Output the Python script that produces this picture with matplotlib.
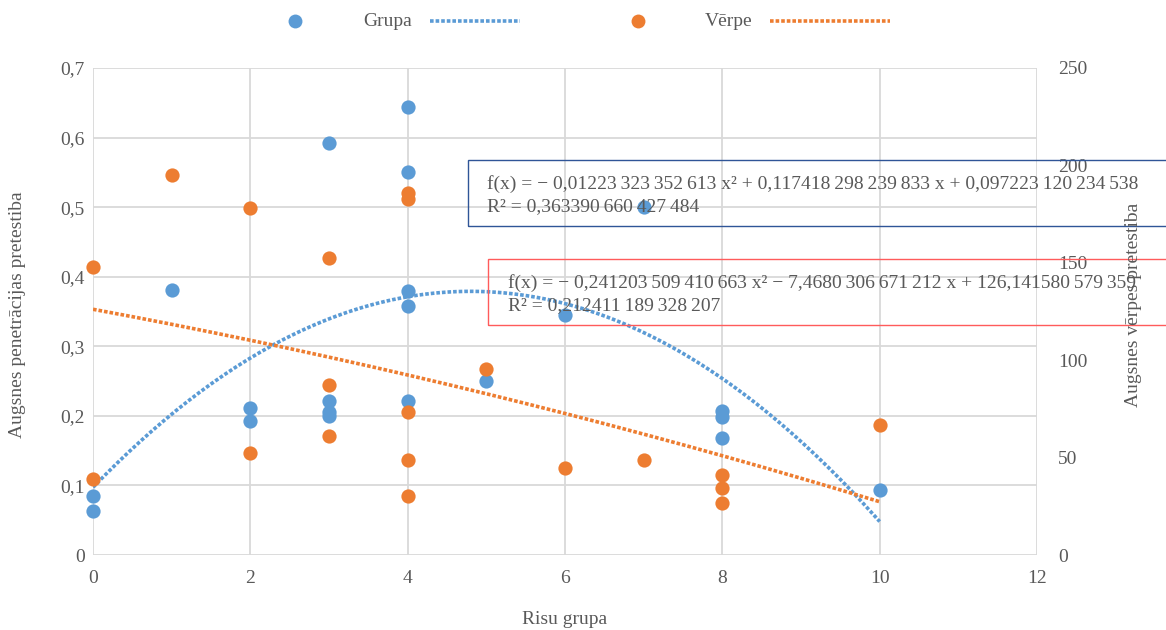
import numpy as np
import matplotlib
matplotlib.use("Agg")
import matplotlib.pyplot as plt
from matplotlib.lines import Line2D
from matplotlib.patches import Rectangle
from matplotlib.ticker import FuncFormatter, MultipleLocator

plt.rcParams['font.family'] = ['Liberation Serif', 'DejaVu Serif']

# data
grupa_x = [0, 0, 1, 2, 2, 3, 3, 3, 3, 4, 4, 4, 4, 4, 5, 6, 7, 8, 8, 8, 10]
grupa_y = [0.085, 0.063, 0.381, 0.211, 0.193, 0.592, 0.221, 0.206, 0.200,
           0.644, 0.550, 0.379, 0.358, 0.221, 0.250, 0.345, 0.500,
           0.207, 0.198, 0.168, 0.093]

verpe_x = [0, 0, 1, 2, 2, 3, 3, 3, 4, 4, 4, 4, 4, 5, 6, 7, 8, 8, 8, 10]
verpe_y = [147.8, 38.9, 195.0, 178.0, 52.4, 152.3, 87.4, 61.1,
           185.7, 182.6, 73.6, 48.8, 30.3, 95.3, 44.7, 48.9,
           41.2, 34.6, 26.9, 66.6]

# trendline coefficients as printed on the chart (x^2, x, 1)
grupa_coef = [-0.01223323352613, 0.117418298239833, 0.097223120234538]
verpe_coef = [-0.241203509410663, -7.4680306671212, 126.141580579359]

grupa_eq = ("f(x) = \u2212 0,01223\u2009323\u2009352\u2009613 x\u00b2 + 0,117418\u2009298\u2009239\u2009833 x"
            " + 0,097223\u2009120\u2009234\u2009538\nR\u00b2 = 0,363390\u2009660\u2009427\u2009484")
verpe_eq = ("f(x) = \u2212 0,241203\u2009509\u2009410\u2009663 x\u00b2 \u2212 7,4680\u2009306\u2009671\u2009212 x"
            " + 126,141580\u2009579\u2009359\nR\u00b2 = 0,212411\u2009189\u2009328\u2009207")

blue = '#5B9BD5'
orange = '#ED7D31'
grey = '#595959'
gridc = '#D9D9D9'
fs = 14

W, H = 1166, 630
fig = plt.figure(figsize=(W / 100, H / 100), dpi=100)
ax = fig.add_axes([93 / W, 1 - 555 / H, (1037 - 93) / W, (555 - 68) / H])
ax2 = ax.twinx()

xs = np.linspace(0, 10, 200)
dots = dict(lw=2.6, linestyle=(0, (1, 0.55)), dash_capstyle='butt')
ax.plot(xs, np.polyval(grupa_coef, xs), color=blue, zorder=2, **dots)
ax.scatter(grupa_x, grupa_y, s=105, color=blue, zorder=3, linewidths=0, clip_on=False)
ax2.plot(xs, np.polyval(verpe_coef, xs), color=orange, zorder=2, **dots)
ax2.scatter(verpe_x, verpe_y, s=105, color=orange, zorder=3, linewidths=0, clip_on=False)

ax.set_xlim(0, 12)
ax.set_ylim(0, 0.7)
ax2.set_ylim(0, 250)
ax.xaxis.set_major_locator(MultipleLocator(2))
ax.yaxis.set_major_locator(MultipleLocator(0.1))
ax2.yaxis.set_major_locator(MultipleLocator(50))


def comma(v, pos):
    if abs(v) < 1e-9:
        return '0'
    return f'{v:.1f}'.replace('.', ',')


ax.yaxis.set_major_formatter(FuncFormatter(comma))
ax.grid(True, color=gridc, lw=1.3)
ax.set_axisbelow(True)
for a in (ax, ax2):
    for s in a.spines.values():
        s.set_visible(False)
    a.tick_params(length=0, labelsize=fs, colors=grey)
ax.tick_params(axis='y', pad=6)
ax.tick_params(axis='x', pad=11)
ax2.tick_params(axis='y', pad=15)

fig.text(565 / W, 1 - 619 / H, 'Risu grupa', ha='center', va='center', fontsize=fs, color=grey)
fig.text(18 / W, 1 - 315 / H, 'Augsnes penetrācijas pretestiba', rotation=90,
         ha='center', va='center', fontsize=fs, color=grey)
fig.text(1133 / W, 1 - 305 / H, 'Augsnes vērpes pretestiba', rotation=90,
         ha='center', va='center', fontsize=fs, color=grey)

# equation boxes (run off the right edge like the original)
fig.add_artist(Rectangle((468 / W, 1 - 226 / H), 0.7, 66 / H, transform=fig.transFigure,
                         fill=False, edgecolor='#2F5597', lw=1))
fig.add_artist(Rectangle((488 / W, 1 - 325 / H), 0.7, 66 / H, transform=fig.transFigure,
                         fill=False, edgecolor='#FF5B5B', lw=1))
fig.text(487 / W, 1 - 195 / H, grupa_eq, ha='left', va='center', fontsize=fs,
         color=grey, linespacing=1.4)
fig.text(508 / W, 1 - 294 / H, verpe_eq, ha='left', va='center', fontsize=fs,
         color=grey, linespacing=1.4)

# legend along the top
ly = 1 - 21 / H
fig.add_artist(Line2D([295 / W], [ly], marker='o', ms=10, color=blue, mec='none',
                      transform=fig.transFigure))
fig.text(363 / W, ly, 'Grupa', ha='left', va='center', fontsize=fs, color=grey)
fig.add_artist(Line2D([430 / W, 520 / W], [ly, ly], color=blue, transform=fig.transFigure, **dots))
fig.add_artist(Line2D([638 / W], [ly], marker='o', ms=10, color=orange, mec='none',
                      transform=fig.transFigure))
fig.text(705 / W, ly, 'Vērpe', ha='left', va='center', fontsize=fs, color=grey)
fig.add_artist(Line2D([770 / W, 890 / W], [ly, ly], color=orange, transform=fig.transFigure, **dots))

fig.savefig('out.png', dpi=100)
